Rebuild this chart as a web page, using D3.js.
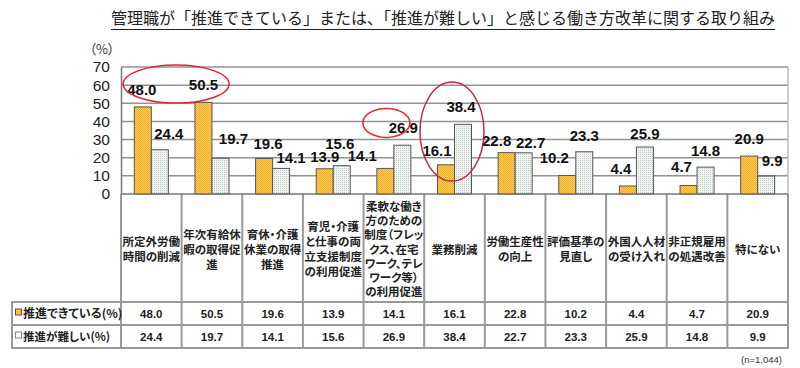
<!DOCTYPE html>
<meta charset="utf-8">
<style>
  body { margin: 0; background: #fff; }
  svg { display: block; }
  .jp { font-family: "Noto Sans CJK JP", sans-serif; font-feature-settings: "palt"; }
  .jpw { font-family: "Noto Sans CJK JP", sans-serif; }
  .num { font-family: "Liberation Sans", Arial, sans-serif; }
</style>
<body>
<script src="https://cdn.jsdelivr.net/npm/d3@7"></script>
<script>
  'use strict';

  // data
  const categories = [
    ["所定外労働", "時間の削減"],
    ["年次有給休", "暇の取得促", "進"],
    ["育休・介護", "休業の取得", "推進"],
    ["育児・介護", "と仕事の両", "立支援制度", "の利用促進"],
    ["柔軟な働き", "方のための", "制度（フレッ", "クス、在宅", "ワーク、テレ", "ワーク等）", "の利用促進"],
    ["業務削減"],
    ["労働生産性", "の向上"],
    ["評価基準の", "見直し"],
    ["外国人人材", "の受け入れ"],
    ["非正規雇用", "の処遇改善"],
    ["特にない"]
  ];
  const seriesNames = ["推進できている(%)", "推進が難しい(%)"];
  const promoted = [48.0, 50.5, 19.6, 13.9, 14.1, 16.1, 22.8, 10.2, 4.4, 4.7, 20.9];
  const difficult = [24.4, 19.7, 14.1, 15.6, 26.9, 38.4, 22.7, 23.3, 25.9, 14.8, 9.9];
  const yTicks = [0, 10, 20, 30, 40, 50, 60, 70];

  // hand placement of value labels, as in the original (px)
  const nudgeA = [[-1, 0], [0, 0], [4, 3], [0, 5], [-23, 5], [-9, 3], [-10, 5], [-13, 0], [-7, 0], [-7, -1], [0, 0]];
  const nudgeB = [[9, 1], [13, -2], [10, 7], [-2, -5], [1, 0], [-2, 0], [7, 7], [0, 1], [0, 4], [0, 1], [6, 2]];

  const W = 800, H = 368;
  const plotLeft = 121, plotRight = 788, plotTop = 67, base = 194;
  const tableLeft = 12, headBottom = 302, row1 = 325, row2 = 348;
  const barW = 17;

  const svg = d3.select("body").append("svg").attr("width", W).attr("height", H);

  const defs = svg.append("defs");
  const pA = defs.append("pattern").attr("id", "patA").attr("patternUnits", "userSpaceOnUse")
      .attr("width", 2).attr("height", 2);
  pA.append("rect").attr("width", 2).attr("height", 2).attr("fill", "#ffd05c");
  pA.append("rect").attr("width", 1).attr("height", 1).attr("fill", "#f2ac24");
  pA.append("rect").attr("x", 1).attr("y", 1).attr("width", 1).attr("height", 1).attr("fill", "#f2ac24");
  const pB = defs.append("pattern").attr("id", "patB").attr("patternUnits", "userSpaceOnUse")
      .attr("width", 2).attr("height", 2);
  pB.append("rect").attr("width", 2).attr("height", 2).attr("fill", "#f2f6f3");
  pB.append("rect").attr("width", 1).attr("height", 1).attr("fill", "#bfcac3");

  const x = d3.scaleBand().domain(d3.range(categories.length)).range([plotLeft, plotRight]);
  const y = d3.scaleLinear().domain([0, 70]).range([base, plotTop]);

  // title
  const title = svg.append("text").attr("class", "jpw")
      .attr("x", 443).attr("y", 24).attr("text-anchor", "middle")
      .attr("font-size", 16).attr("fill", "#222")
      .text("管理職が「推進できている」または、「推進が難しい」と感じる働き方改革に関する取り組み");
  const tb = title.node().getBBox();
  svg.append("line").attr("x1", tb.x).attr("x2", tb.x + tb.width)
      .attr("y1", 29.5).attr("y2", 29.5).attr("stroke", "#222").attr("stroke-width", 1);

  svg.append("text").attr("class", "jp").attr("x", 102).attr("y", 54)
      .attr("text-anchor", "middle").attr("font-size", 13).attr("fill", "#333").text("（%）");

  // grid
  svg.append("g").selectAll("line").data(yTicks.filter(d => d > 0)).join("line")
      .attr("x1", plotLeft).attr("x2", plotRight)
      .attr("y1", d => y(d)).attr("y2", d => y(d))
      .attr("stroke", "#939393").attr("stroke-width", 1.5);
  svg.append("line").attr("x1", plotRight).attr("x2", plotRight).attr("y1", plotTop).attr("y2", base)
      .attr("stroke", "#bbb").attr("stroke-width", 1.5);

  // y axis
  const yAxis = svg.append("g").attr("transform", `translate(${plotLeft},0)`)
      .call(d3.axisLeft(y).tickValues(yTicks).tickSize(0).tickPadding(11));
  yAxis.select(".domain").attr("stroke", "#777").attr("stroke-width", 1.5);
  yAxis.selectAll("text").attr("font-family", "Liberation Sans, Arial, sans-serif")
      .attr("font-size", 15.5).attr("fill", "#222");

  // bars
  const g = svg.append("g");
  g.selectAll(".barA").data(promoted).join("rect")
      .attr("x", (d, i) => x(i) + x.bandwidth() / 2 - barW)
      .attr("y", d => y(d)).attr("width", barW).attr("height", d => base - y(d))
      .attr("fill", "url(#patA)").attr("stroke", "#555").attr("stroke-width", 1);
  g.selectAll(".barB").data(difficult).join("rect")
      .attr("x", (d, i) => x(i) + x.bandwidth() / 2)
      .attr("y", d => y(d)).attr("width", barW).attr("height", d => base - y(d))
      .attr("fill", "url(#patB)").attr("stroke", "#555").attr("stroke-width", 1);

  // value labels
  const lab = svg.append("g").attr("class", "num").attr("font-size", 15).attr("font-weight", "bold")
      .attr("fill", "#111").attr("text-anchor", "middle");
  lab.selectAll(".la").data(promoted).join("text")
      .attr("x", (d, i) => x(i) + x.bandwidth() / 2 - barW / 2 + nudgeA[i][0])
      .attr("y", (d, i) => y(d) - 12 + nudgeA[i][1])
      .text(d => d.toFixed(1));
  lab.selectAll(".lb").data(difficult).join("text")
      .attr("x", (d, i) => x(i) + x.bandwidth() / 2 + barW / 2 + nudgeB[i][0])
      .attr("y", (d, i) => y(d) - 12 + nudgeB[i][1])
      .text(d => d.toFixed(1));

  // red ellipses round the highlighted values
  const ring = svg.append("g").attr("fill", "none").attr("stroke-width", 1.5);
  ring.append("ellipse").attr("cx", x(1) - 5.5).attr("cy", y(60.6)).attr("rx", 53).attr("ry", 19)
      .attr("stroke", "#e3262b");
  ring.append("ellipse").attr("cx", x(4) + x.bandwidth() / 2 - 7.5).attr("cy", y(39.2)).attr("rx", 23.5).attr("ry", 14.5)
      .attr("stroke", "#e3262b");
  ring.append("ellipse").attr("cx", x(5) + x.bandwidth() / 2 - 2.5).attr("cy", y(34.4)).attr("rx", 32).attr("ry", 49.5)
      .attr("stroke", "#c2294b");

  // table
  const tbl = svg.append("g");
  const lineC = "#999";
  tbl.selectAll(".v").data(d3.range(categories.length + 1)).join("line")
      .attr("x1", i => i < categories.length ? x(i) : plotRight).attr("x2", i => i < categories.length ? x(i) : plotRight)
      .attr("y1", base).attr("y2", row2).attr("stroke", lineC).attr("stroke-width", 2);
  tbl.append("line").attr("x1", tableLeft).attr("x2", tableLeft).attr("y1", headBottom).attr("y2", row2)
      .attr("stroke", lineC).attr("stroke-width", 2);
  [headBottom, row1, row2].forEach(yy => tbl.append("line").attr("x1", tableLeft - 1).attr("x2", plotRight + 1)
      .attr("y1", yy).attr("y2", yy).attr("stroke", lineC).attr("stroke-width", 2));
  svg.append("line").attr("x1", plotLeft).attr("x2", plotRight).attr("y1", base).attr("y2", base)
      .attr("stroke", "#777").attr("stroke-width", 1.5);

  const head = tbl.append("g").attr("class", "jp").attr("font-size", 11.5).attr("font-weight", "bold")
      .attr("fill", "#222").attr("text-anchor", "middle");
  categories.forEach((lines, i) => {
    const lh = lines.length > 5 ? 14.3 : 15;
    const cy = (base + headBottom) / 2 + 1.5;
    const t = head.append("text").attr("x", x(i) + x.bandwidth() / 2)
        .attr("y", cy - (lines.length - 1) * lh / 2 + 4);
    lines.forEach((s, k) => t.append("tspan").attr("x", x(i) + x.bandwidth() / 2)
        .attr("dy", k === 0 ? 0 : lh).text(s));
  });

  const rows = [promoted, difficult];
  const rowTop = [headBottom, row1];
  rows.forEach((vals, r) => {
    const cy = rowTop[r] + (row1 - headBottom) / 2;
    tbl.append("rect").attr("x", 15.5).attr("y", cy - 4.5).attr("width", 6).attr("height", 6)
        .attr("fill", r === 0 ? "#ffc41f" : "#fff").attr("stroke", r === 0 ? "#555" : "#888").attr("stroke-width", 1);
    tbl.append("text").attr("class", "jp").attr("x", 23).attr("y", cy + 4.5)
        .attr("font-size", r === 0 ? 12 : 11.5).attr("font-weight", "bold").attr("fill", "#222")
        .text(seriesNames[r]);
    tbl.selectAll(".r" + r).data(vals).join("text").attr("class", "num")
        .attr("x", (d, i) => x(i) + x.bandwidth() / 2).attr("y", cy + 4)
        .attr("text-anchor", "middle").attr("font-size", 11.5).attr("font-weight", "bold").attr("fill", "#222")
        .text(d => d.toFixed(1));
  });

  svg.append("text").attr("class", "num").attr("x", 782).attr("y", 363).attr("text-anchor", "end")
      .attr("font-size", 9.5).attr("fill", "#333").text("(n=1,044)");
</script>
</body>
